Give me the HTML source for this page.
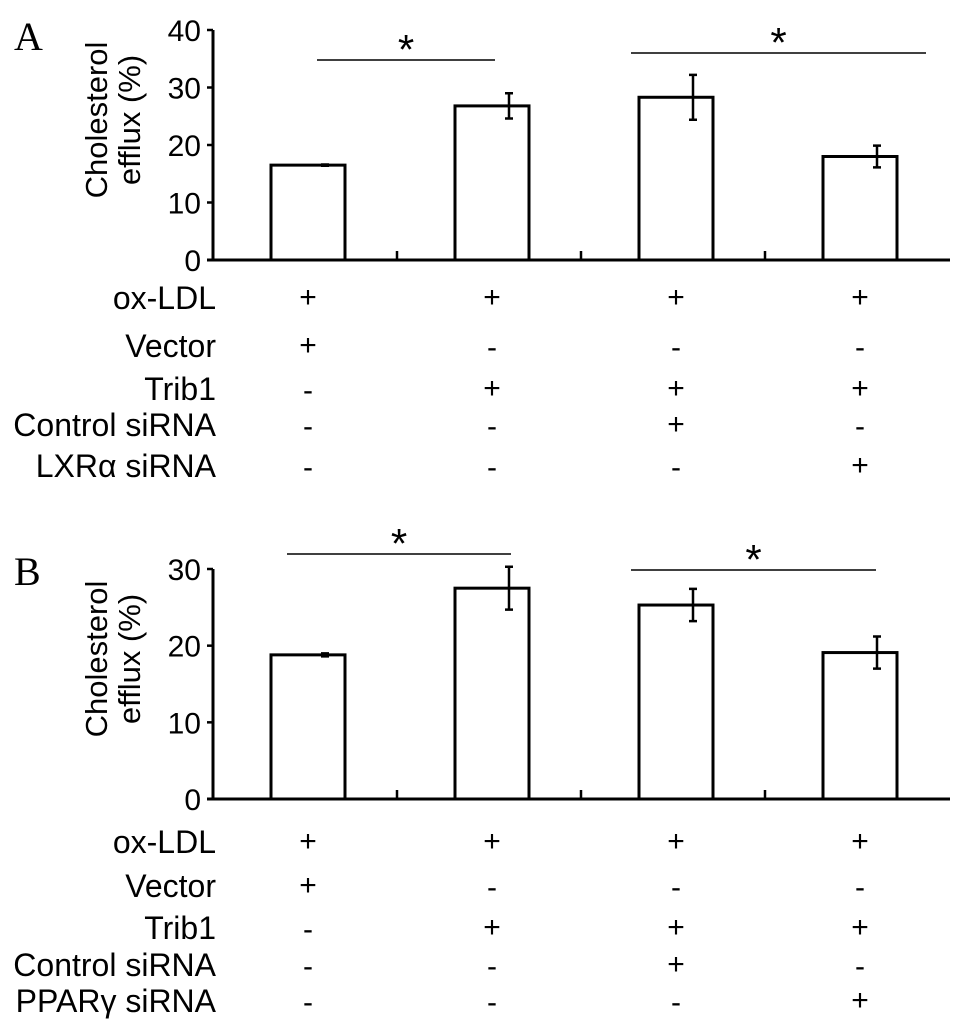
<!DOCTYPE html>
<html><head><meta charset="utf-8"><style>
body{margin:0;background:#fff}
svg{display:block}
text{font-family:"Liberation Sans",sans-serif;fill:#000}
</style></head><body>
<svg id="chart" width="966" height="1036" viewBox="0 0 966 1036" xmlns="http://www.w3.org/2000/svg">
<g id="root"></g>
</svg>
<script>
const categories = ["Group 1","Group 2","Group 3","Group 4"];
const valuesA = [16.5, 26.8, 28.3, 18.0];
const errorsA = [0.1, 2.2, 3.9, 1.9];
const valuesB = [18.8, 27.5, 25.3, 19.1];
const errorsB = [0.2, 2.8, 2.1, 2.1];
const ticksA = [0,10,20,30,40];
const ticksB = [0,10,20,30];
const rowLabelsA = ["ox-LDL","Vector","Trib1","Control siRNA","LXRα siRNA"];
const rowLabelsB = ["ox-LDL","Vector","Trib1","Control siRNA","PPARγ siRNA"];
const signs = [["+","+","+","+"],["+","-","-","-"],["-","+","+","+"],["-","-","+","-"],["-","-","-","+"]];
const sigPairs = [[0,1],[2,3]];

const NS="http://www.w3.org/2000/svg";
const root=document.getElementById('root');
function mk(tag,attrs,parent){const e=document.createElementNS(NS,tag);for(const k in attrs)e.setAttribute(k,attrs[k]);(parent||root).appendChild(e);return e;}
const x0=213, step=184, xEnd=950, barW=74;
function cx(i){return x0+95+i*step;}

function panel(p){
  const g=mk('g',{});
  
  
  const y=v=>p.y0-(v/p.max)*(p.y0-p.yTop);
  const L=mk('text',{x:14,y:p.letterY,'font-size':40,style:'font-family:"Liberation Serif",serif'},g);
  L.textContent=p.letter;
  
  
  const ax=mk('line',{x1:x0,y1:y(p.max),x2:x0,y2:p.y0,stroke:'#000','stroke-width':3},g);
  
  
  const xa=mk('line',{x1:x0-6,y1:p.y0,x2:xEnd,y2:p.y0,stroke:'#000','stroke-width':3},g);
  
  
  p.ticks.forEach(t=>{
    const tl=mk('line',{x1:x0-6,y1:y(t),x2:x0,y2:y(t),stroke:'#000','stroke-width':2.5},g);
    
    
    const tt=mk('text',{x:x0-12,y:y(t)+11,'font-size':30,'text-anchor':'end'},g);
    tt.textContent=t;
    
    
  });
  for(let i=1;i<4;i++){
    const m=mk('line',{x1:x0+i*step,y1:p.y0,x2:x0+i*step,y2:p.y0-9,stroke:'#000','stroke-width':2.5},g);
    
    
  }
  const midY=(p.y0+y(p.max))/2-25;
  const t1=mk('text',{x:0,y:0,'font-size':31,'text-anchor':'middle',transform:`translate(107 ${midY}) rotate(-90)`},g);
  t1.textContent='Cholesterol';
  
  
  const t2=mk('text',{x:0,y:0,'font-size':31,'text-anchor':'middle',transform:`translate(140 ${midY}) rotate(-90)`},g);
  t2.textContent='efflux (%)';
  
  
  p.values.forEach((v,i)=>{
    const b=mk('rect',{x:cx(i)-barW/2,y:y(v),width:barW,height:p.y0-y(v),fill:'#fff',stroke:'#000','stroke-width':3},g);
    
    
    const e=p.errors[i], ex=cx(i)+17;
    const eb=mk('path',{d:`M${ex} ${y(v+e)}V${y(v-e)}M${ex-4} ${y(v+e)}H${ex+4}M${ex-4} ${y(v-e)}H${ex+4}`,stroke:'#000','stroke-width':2.5,fill:'none'},g);
    
    
  });
  sigPairs.forEach((sp,k)=>{
    const ly=p.sigY[k];
    const x1=cx(sp[0])+p.sigOff[k][0], x2=cx(sp[1])+p.sigOff[k][1];
    const l=mk('line',{x1:x1,y1:ly,x2:x2,y2:ly,stroke:'#000','stroke-width':1.5},g);
    
    
    const s=mk('text',{x:(x1+x2)/2,y:ly+4,'font-size':42,'text-anchor':'middle'},g);
    s.textContent='*';
    
    
  });
  p.rows.forEach((lab,r)=>{
    const ry=p.rowY[r];
    const t=mk('text',{x:216,y:ry,'font-size':32,'text-anchor':'end'},g);
    t.textContent=lab;
    
    
    signs[r].forEach((s,i)=>{
      const st=mk('text',{x:cx(i),y:ry-(s==='+'?2:0),'font-size':30,'text-anchor':'middle'},g);
      st.textContent=s;
      
      
    });
  });
}
panel({letter:'A',letterY:50,y0:260,yTop:30,max:40,ticks:ticksA,values:valuesA,errors:errorsA,
  sigY:[60,53],sigOff:[[9,3],[-45,66]],rows:rowLabelsA,rowY:[309,357,400,436,477]});
panel({letter:'B',letterY:585,y0:799,yTop:569,max:30,ticks:ticksB,values:valuesB,errors:errorsB,
  sigY:[554,570],sigOff:[[-21,19],[-45,16]],rows:rowLabelsB,rowY:[853,897,939,976,1012]});
</script>
</body></html>
